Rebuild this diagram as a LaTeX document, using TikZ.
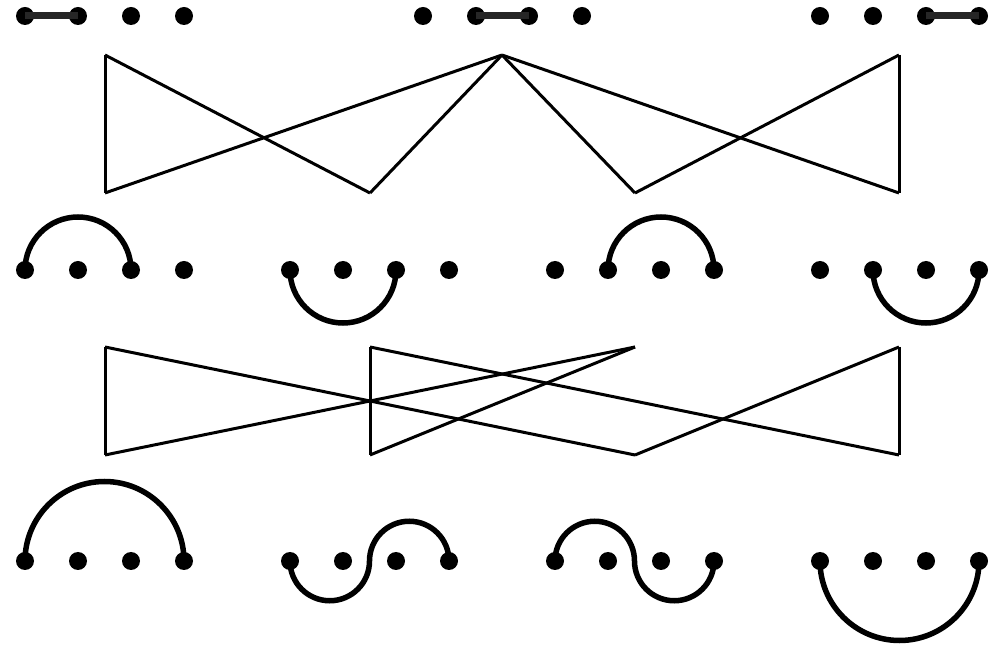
\documentclass[tikz,border=0pt]{standalone}
\begin{document}
\begin{tikzpicture}[x=1pt,y=1pt,
  dot/.style={circle,fill=black,inner sep=0pt,minimum size=18pt},
  link/.style={line width=3pt},
  bond/.style={line width=7pt,draw=black!85},
  loopline/.style={line width=5.5pt}]
\useasboundingbox (0,0) rectangle (1005,646);
% dots row 1
\foreach \g/\x in {1/25,2/423,3/820}{
  \foreach \i in {1,2,3,4}{
    \node[dot] (t\g-\i) at ({\x+53*(\i-1)},630) {};
  }
}
% dots rows 2 and 3
\foreach \g/\x in {1/25,2/290,3/555,4/820}{
  \foreach \i in {1,2,3,4}{
    \node[dot] (m\g-\i) at ({\x+53*(\i-1)},376) {};
    \node[dot] (b\g-\i) at ({\x+53*(\i-1)},85) {};
  }
}
% bars row 1
\draw[bond] (t1-1.center) -- (t1-2.center);
\draw[bond] (t2-2.center) -- (t2-3.center);
\draw[bond] (t3-3.center) -- (t3-4.center);
% connector points
\coordinate (u1) at (105,591);
\coordinate (u2) at (502,591);
\coordinate (u3) at (899,591);
\coordinate (v1) at (105,453);
\coordinate (v2) at (370,453);
\coordinate (v3) at (635,453);
\coordinate (v4) at (899,453);
\coordinate (p1) at (105,299);
\coordinate (p2) at (370,299);
\coordinate (p3) at (635,299);
\coordinate (p4) at (899,299);
\coordinate (q1) at (105,191);
\coordinate (q2) at (370,191);
\coordinate (q3) at (635,191);
\coordinate (q4) at (899,191);
% upper band
\foreach \a/\b in {u1/v1,u1/v2,u2/v1,u2/v2,u2/v3,u2/v4,u3/v3,u3/v4}
  \draw[link] (\a) -- (\b);
% lower band
\foreach \a/\b in {p1/q1,p1/q3,p2/q2,p2/q4,p3/q1,p3/q2,p4/q3,p4/q4}
  \draw[link] (\a) -- (\b);
% arcs row 2
\draw[loopline] (m1-1.center) arc[start angle=180,end angle=0,radius=53];
\draw[loopline] (m2-1.center) arc[start angle=180,end angle=360,radius=53];
\draw[loopline] (m3-2.center) arc[start angle=180,end angle=0,radius=53];
\draw[loopline] (m4-2.center) arc[start angle=180,end angle=360,radius=53];
% arcs row 3
\draw[loopline] (b1-1.center) arc[start angle=180,end angle=0,radius=79.5];
\draw[loopline] (b2-1.center) arc[start angle=180,end angle=360,radius=39.75] arc[start angle=180,end angle=0,radius=39.75];
\draw[loopline] (b3-1.center) arc[start angle=180,end angle=0,radius=39.75] arc[start angle=180,end angle=360,radius=39.75];
\draw[loopline] (b4-1.center) arc[start angle=180,end angle=360,radius=79.5];
\end{tikzpicture}
\end{document}
